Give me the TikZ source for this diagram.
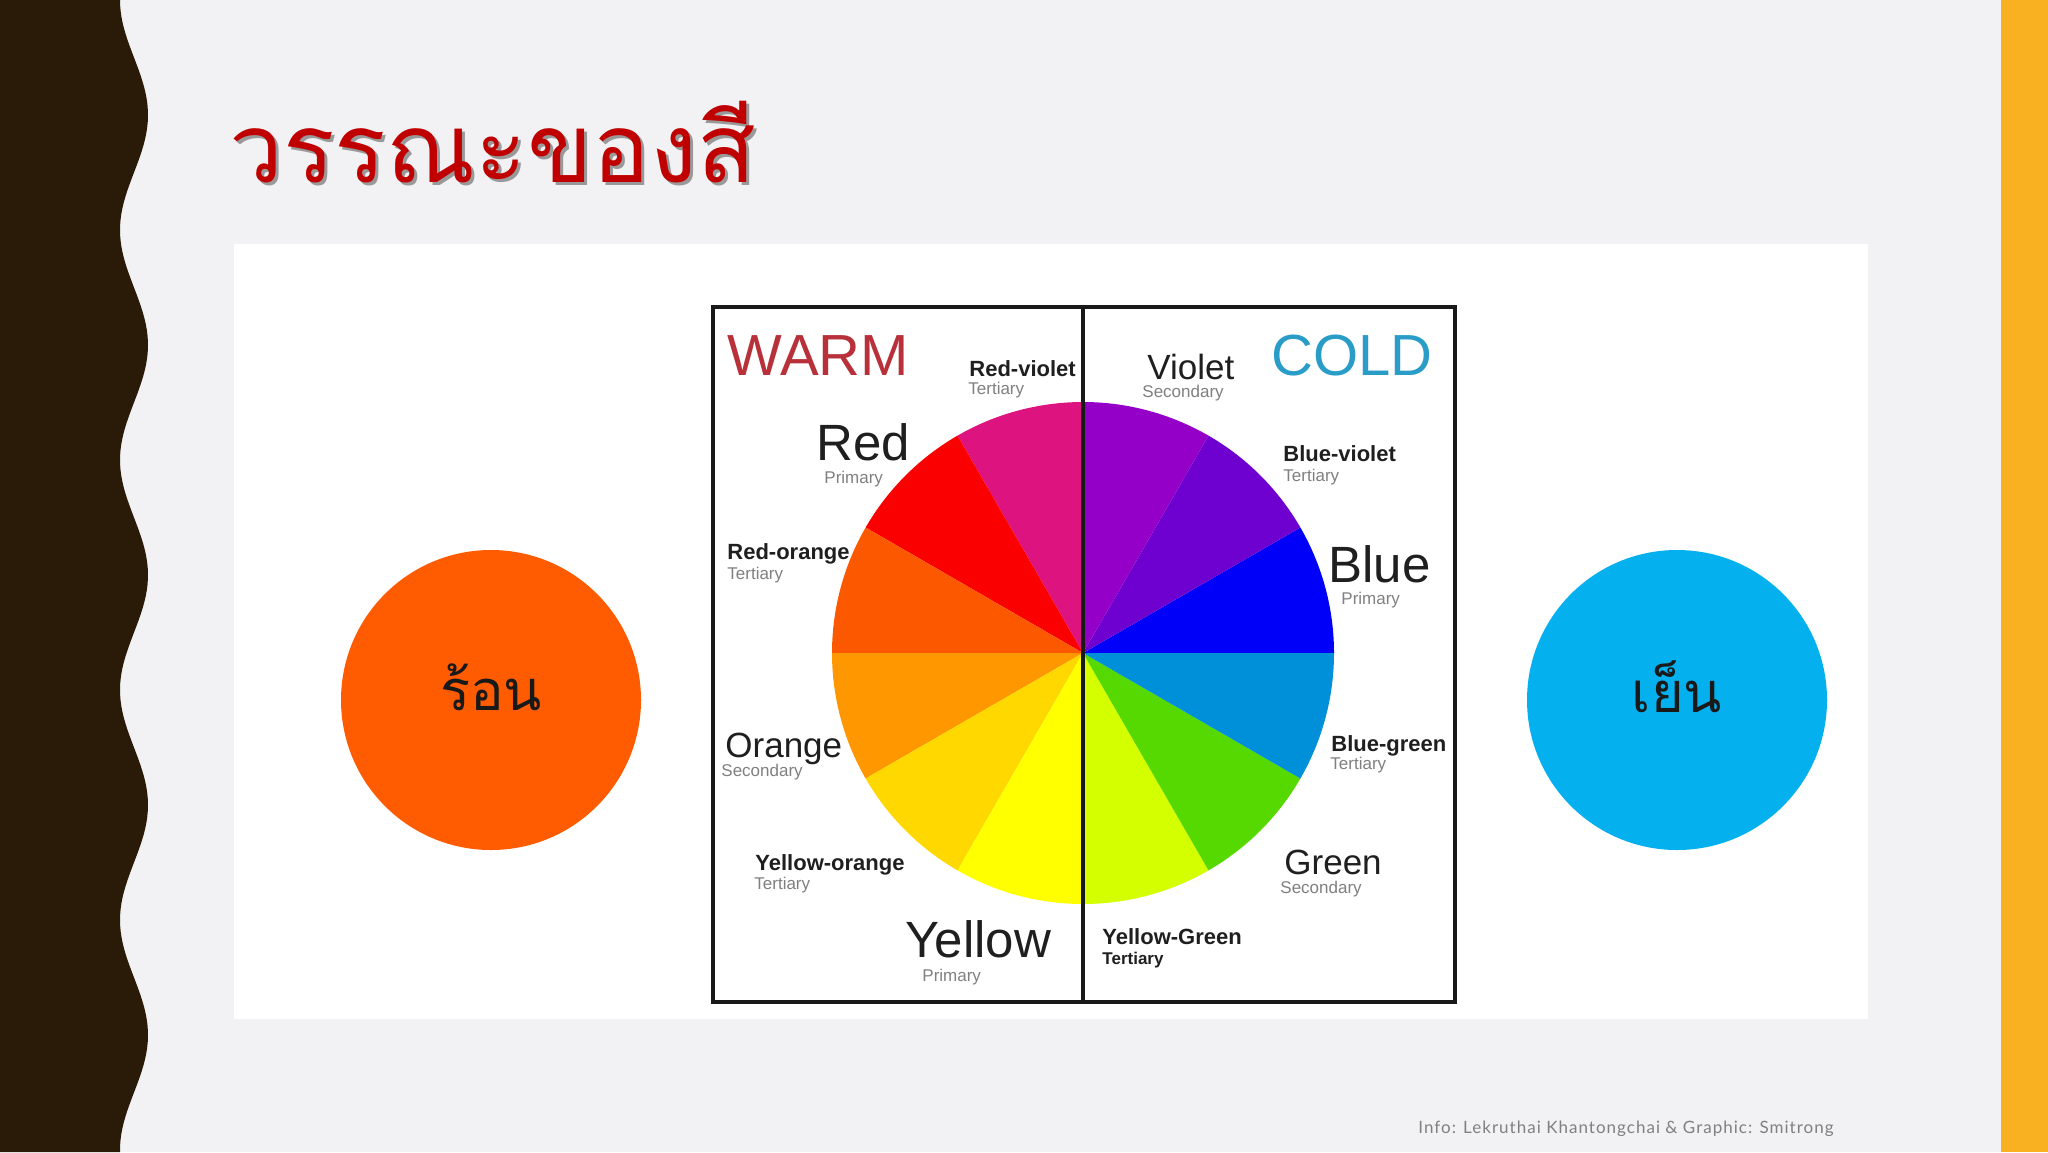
\documentclass[tikz,border=0pt]{standalone}
\usepackage{fontspec}
\setmainfont{Liberation Sans}
\newfontfamily\thaifont[Script=Thai]{Loma}
\newfontfamily\footfont[LetterSpace=6]{Lato}
\definecolor{bgc}{HTML}{F2F2F4}
\definecolor{darkband}{HTML}{2A1B08}
\definecolor{rightband}{HTML}{F9B122}
\definecolor{titlered}{HTML}{C00000}
\definecolor{hotc}{HTML}{FF5B00}
\definecolor{coldc}{HTML}{05B0EE}
\definecolor{warmtxt}{HTML}{B8303A}
\definecolor{coldtxt}{HTML}{2A9CC8}
\definecolor{cRV}{HTML}{DD1480}
\definecolor{cR}{HTML}{FA0000}
\definecolor{cRO}{HTML}{FB5800}
\definecolor{cO}{HTML}{FF9800}
\definecolor{cYO}{HTML}{FFD800}
\definecolor{cY}{HTML}{FFFF00}
\definecolor{cYG}{HTML}{D4FF00}
\definecolor{cG}{HTML}{55D900}
\definecolor{cBG}{HTML}{0090DA}
\definecolor{cB}{HTML}{0000FA}
\definecolor{cBV}{HTML}{6E00D0}
\definecolor{cV}{HTML}{9400C8}
\tikzset{
  lbl/.style={anchor=base west, inner sep=0pt, text=black!88},
  prim/.style={lbl, font=\fontsize{25.5}{26}\selectfont},
  seclbl/.style={lbl, font=\fontsize{17.5}{18}\selectfont},
  ter/.style={lbl, font=\bfseries\fontsize{11}{12}\selectfont},
  sublbl/.style={lbl, font=\fontsize{8.5}{9}\selectfont, text=black!50},
  bigword/.style={lbl, font=\fontsize{29}{30}\selectfont},
  blob/.style={circle, minimum size=150pt, inner sep=0pt},
  blobtext/.style={font=\thaifont\fontsize{28}{30}\selectfont, text=black!90, inner sep=0pt},
  titlefont/.style={anchor=base west, inner sep=0pt, font=\thaifont\fontsize{48}{50}\selectfont}
}
\begin{document}
\begin{tikzpicture}[x=0.5pt,y=-0.5pt]
\useasboundingbox (0,0) rectangle (2048,1152);
\fill[bgc] (0,0) rectangle (2048,1152);
\fill[darkband] (0,0) -- plot[domain=0:1152,samples=200] ({134-14*cos((\x/230)*360)},{\x}) -- (0,1152) -- cycle;
\fill[rightband] (2001,0) rectangle (2048,1152);
% title
\node[titlefont, text=black!40] (titleshadow) at (232,185) {วรรณะของสี};
\node[titlefont, text=titlered] (title) at (229,182) {วรรณะของสี};
% panel
\fill[white] (234,244) rectangle (1868,1019);
% circles
\node[blob, fill=hotc] (hot) at (491,700) {};
\node[blob, fill=coldc] (cold) at (1677,700) {};
\node[blobtext] (hottxt) at (491,687) {ร้อน};
\node[blobtext] (coldtxt) at (1677,687) {เย็น};
% wheel
\begin{scope}[shift={(1083,653)}, yscale=-1]
\foreach \a/\c in {0/cB,30/cBV,60/cV,90/cRV,120/cR,150/cRO,180/cO,210/cYO,240/cY,270/cYG,300/cG,330/cBG}{
  \fill[\c] (0,0) -- (\a:251) arc[start angle=\a, end angle=\a+30, radius=251] -- cycle;
}
\end{scope}
\coordinate (boxtl) at (713,307);
\coordinate (boxbr) at (1455,1002);
\coordinate (midtop) at (1083,307);
\coordinate (midbot) at (1083,1002);
\draw[line width=2pt, black!90] (boxtl) rectangle (boxbr);
\draw[line width=2pt, black!90] (midtop) -- (midbot);
% labels
\node[bigword, text=warmtxt] (warm) at (727,375) {WARM};
\node[bigword, text=coldtxt] (coldw) at (1271,375) {COLD};
\node[ter] (rv) at (969,376) {Red-violet};
\node[sublbl] (rvs) at (968,394) {Tertiary};
\node[prim] (red) at (816,460) {Red};
\node[sublbl] (reds) at (824,483) {Primary};
\node[ter] (ro) at (727,559) {Red-orange};
\node[sublbl] (ros) at (727,579) {Tertiary};
\node[seclbl] (or) at (725,757) {Orange};
\node[sublbl] (ors) at (721,776) {Secondary};
\node[ter] (yo) at (755,870) {Yellow-orange};
\node[sublbl] (yos) at (754,889) {Tertiary};
\node[prim] (ye) at (905,957) {Yellow};
\node[sublbl] (yes) at (922,981) {Primary};
\node[seclbl] (vi) at (1147,379) {Violet};
\node[sublbl] (vis) at (1142,397) {Secondary};
\node[ter] (bv) at (1283,461) {Blue-violet};
\node[sublbl] (bvs) at (1283,481) {Tertiary};
\node[prim] (bl) at (1328,582) {Blue};
\node[sublbl] (bls) at (1341,604) {Primary};
\node[ter] (bg) at (1331,751) {Blue-green};
\node[sublbl] (bgs) at (1330,769) {Tertiary};
\node[seclbl] (gr) at (1284,874) {Green};
\node[sublbl] (grs) at (1280,893) {Secondary};
\node[ter] (yg) at (1102,944) {Yellow-Green};
\node[ter, font=\bfseries\fontsize{8.5}{9}\selectfont] (ygs) at (1102,964) {Tertiary};
% footer
\node[anchor=base west, inner sep=0pt, text=black!50, font=\footfont\fontsize{8.5}{10}\selectfont] (foot) at (1418,1133) {Info: Lekruthai Khantongchai \& Graphic: Smitrong};
\end{tikzpicture}
\end{document}
